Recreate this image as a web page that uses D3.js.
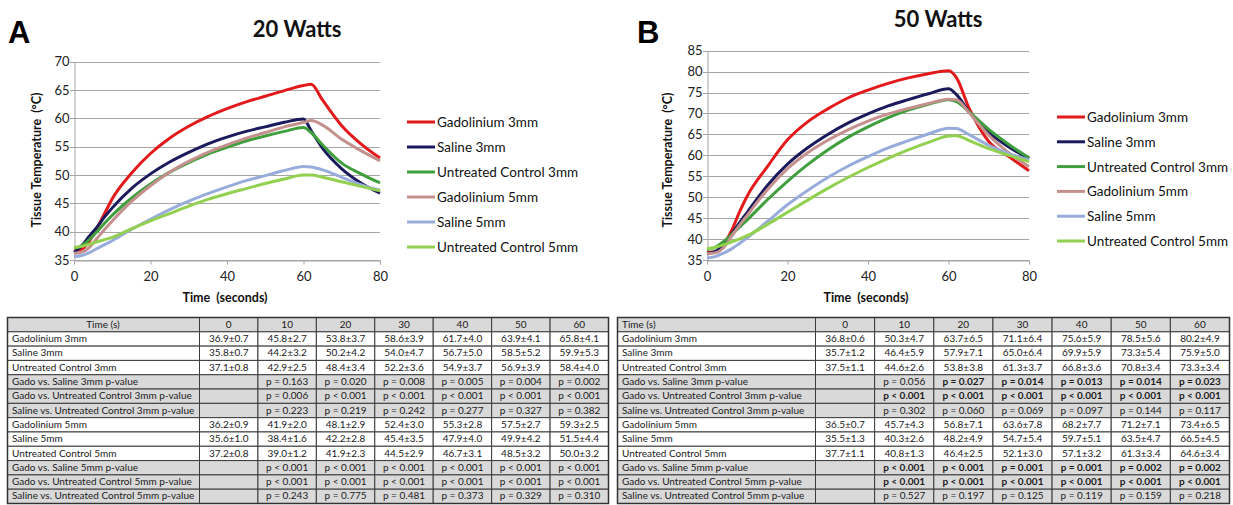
<!DOCTYPE html>
<html>
<head>
<meta charset="utf-8">
<script src="https://cdn.jsdelivr.net/npm/d3@7"></script>
<style>
  body { margin: 0; background: #fff; }
  svg { display: block; font-family: Lato, "Open Sans", sans-serif; }
</style>
</head>
<body>
<script>
// time grid (seconds) the curves were read at
var times = [0, 2, 4, 6, 8, 10, 15, 20, 25, 30, 35, 40, 45, 50, 55, 60, 62, 65, 70, 75, 80];

var seriesNames = ["Gadolinium 3mm", "Saline 3mm", "Untreated Control 3mm",
                   "Gadolinium 5mm", "Saline 5mm", "Untreated Control 5mm"];

// 20 Watts
var a_gado3 = [36.6, 36.9, 38.3, 40.6, 43.2, 45.8, 50.3, 53.8, 56.5, 58.6, 60.3, 61.7, 62.9, 63.9, 64.9, 65.8, 66.0, 63.2, 58.7, 55.5, 53.0];
var a_sal3  = [36.3, 37.5, 39.2, 40.8, 42.6, 44.2, 47.6, 50.2, 52.3, 54.0, 55.5, 56.7, 57.7, 58.5, 59.3, 59.9, 57.8, 54.7, 51.1, 48.6, 46.8];
var a_unt3  = [37.1, 37.5, 38.6, 40.0, 41.5, 42.9, 45.9, 48.4, 50.5, 52.2, 53.7, 54.9, 56.0, 56.9, 57.7, 58.4, 57.5, 55.3, 52.1, 50.2, 48.6];
var a_gado5 = [36.2, 36.4, 37.2, 38.8, 40.4, 41.9, 45.3, 48.1, 50.5, 52.4, 54.0, 55.3, 56.5, 57.5, 58.5, 59.3, 59.6, 58.8, 56.3, 54.3, 52.5];
var a_sal5  = [35.6, 35.8, 36.3, 37.0, 37.7, 38.4, 40.4, 42.2, 43.9, 45.4, 46.7, 47.9, 49.0, 49.9, 50.8, 51.5, 51.4, 50.9, 49.6, 48.3, 47.3];
var a_unt5  = [37.2, 37.4, 37.8, 38.2, 38.6, 39.0, 40.5, 41.9, 43.2, 44.5, 45.7, 46.7, 47.6, 48.5, 49.3, 50.0, 50.0, 49.6, 48.8, 48.0, 47.2];

// 50 Watts
var b_gado3 = [36.8, 37.0, 38.5, 41.8, 46.3, 50.3, 57.3, 63.7, 68.0, 71.1, 73.7, 75.6, 77.2, 78.5, 79.5, 80.2, 78.5, 71.5, 63.3, 59.7, 56.3];
var b_sal3  = [36.5, 37.0, 38.5, 41.0, 43.8, 46.4, 52.8, 57.9, 61.8, 65.0, 67.7, 69.9, 71.8, 73.3, 74.7, 75.9, 74.5, 70.5, 65.5, 62.0, 59.2];
var b_unt3  = [37.5, 38.0, 39.3, 41.0, 42.8, 44.6, 49.4, 53.8, 57.8, 61.3, 64.3, 66.8, 69.0, 70.8, 72.2, 73.3, 72.8, 70.5, 66.2, 62.6, 59.4];
var b_gado5 = [36.5, 36.7, 37.8, 40.5, 43.2, 45.7, 51.8, 56.8, 60.6, 63.6, 66.1, 68.2, 69.9, 71.2, 72.4, 73.4, 73.3, 70.3, 64.8, 60.6, 57.3];
var b_sal5  = [35.5, 35.8, 36.6, 37.6, 38.9, 40.3, 44.2, 48.2, 51.6, 54.7, 57.4, 59.7, 61.8, 63.5, 65.1, 66.5, 66.4, 65.0, 62.4, 60.4, 58.9];
var b_unt5  = [37.7, 38.0, 38.6, 39.3, 40.0, 40.8, 43.5, 46.4, 49.3, 52.1, 54.7, 57.1, 59.3, 61.3, 63.1, 64.6, 64.7, 63.6, 61.6, 60.0, 58.5];

var xTicks = [0, 20, 40, 60, 80];
var yTicksA = [35, 40, 45, 50, 55, 60, 65, 70];
var yTicksB = [35, 40, 45, 50, 55, 60, 65, 70, 75, 80, 85];

// tables
var tableTimes = ["0", "10", "20", "30", "40", "50", "60"];
var rowLabels = ["Gadolinium 3mm", "Saline 3mm", "Untreated Control 3mm",
  "Gado vs. Saline 3mm p-value", "Gado vs. Untreated Control 3mm p-value", "Saline vs. Untreated Control 3mm p-value",
  "Gadolinium 5mm", "Saline 5mm", "Untreated Control 5mm",
  "Gado vs. Saline 5mm p-value", "Gado vs. Untreated Control 5mm p-value", "Saline vs. Untreated Control 5mm p-value"];
var pRows = [false, false, false, true, true, true, false, false, false, true, true, true];

var tA_gado3 = ["36.9±0.7", "45.8±2.7", "53.8±3.7", "58.6±3.9", "61.7±4.0", "63.9±4.1", "65.8±4.1"];
var tA_sal3  = ["35.8±0.7", "44.2±3.2", "50.2±4.2", "54.0±4.7", "56.7±5.0", "58.5±5.2", "59.9±5.3"];
var tA_unt3  = ["37.1±0.8", "42.9±2.5", "48.4±3.4", "52.2±3.6", "54.9±3.7", "56.9±3.9", "58.4±4.0"];
var tA_p1    = ["", "p = 0.163", "p = 0.020", "p = 0.008", "p = 0.005", "p = 0.004", "p = 0.002"];
var tA_p2    = ["", "p = 0.006", "p < 0.001", "p < 0.001", "p < 0.001", "p < 0.001", "p < 0.001"];
var tA_p3    = ["", "p = 0.223", "p = 0.219", "p = 0.242", "p = 0.277", "p = 0.327", "p = 0.382"];
var tA_gado5 = ["36.2±0.9", "41.9±2.0", "48.1±2.9", "52.4±3.0", "55.3±2.8", "57.5±2.7", "59.3±2.5"];
var tA_sal5  = ["35.6±1.0", "38.4±1.6", "42.2±2.8", "45.4±3.5", "47.9±4.0", "49.9±4.2", "51.5±4.4"];
var tA_unt5  = ["37.2±0.8", "39.0±1.2", "41.9±2.3", "44.5±2.9", "46.7±3.1", "48.5±3.2", "50.0±3.2"];
var tA_p4    = ["", "p < 0.001", "p < 0.001", "p < 0.001", "p < 0.001", "p < 0.001", "p < 0.001"];
var tA_p5    = ["", "p < 0.001", "p < 0.001", "p < 0.001", "p < 0.001", "p < 0.001", "p < 0.001"];
var tA_p6    = ["", "p = 0.243", "p = 0.775", "p = 0.481", "p = 0.373", "p = 0.329", "p = 0.310"];

var tB_gado3 = ["36.8±0.6", "50.3±4.7", "63.7±6.5", "71.1±6.4", "75.6±5.9", "78.5±5.6", "80.2±4.9"];
var tB_sal3  = ["35.7±1.2", "46.4±5.9", "57.9±7.1", "65.0±6.4", "69.9±5.9", "73.3±5.4", "75.9±5.0"];
var tB_unt3  = ["37.5±1.1", "44.6±2.6", "53.8±3.8", "61.3±3.7", "66.8±3.6", "70.8±3.4", "73.3±3.4"];
var tB_p1    = ["", "p = 0.056", "p = 0.027", "p = 0.014", "p = 0.013", "p = 0.014", "p = 0.023"];
var tB_p2    = ["", "p < 0.001", "p < 0.001", "p < 0.001", "p < 0.001", "p < 0.001", "p < 0.001"];
var tB_p3    = ["", "p = 0.302", "p = 0.060", "p = 0.069", "p = 0.097", "p = 0.144", "p = 0.117"];
var tB_gado5 = ["36.5±0.7", "45.7±4.3", "56.8±7.1", "63.6±7.8", "68.2±7.7", "71.2±7.1", "73.4±6.5"];
var tB_sal5  = ["35.5±1.3", "40.3±2.6", "48.2±4.9", "54.7±5.4", "59.7±5.1", "63.5±4.7", "66.5±4.5"];
var tB_unt5  = ["37.7±1.1", "40.8±1.3", "46.4±2.5", "52.1±3.0", "57.1±3.2", "61.3±3.4", "64.6±3.4"];
var tB_p4    = ["", "p < 0.001", "p < 0.001", "p = 0.001", "p = 0.001", "p = 0.002", "p = 0.002"];
var tB_p5    = ["", "p < 0.001", "p < 0.001", "p < 0.001", "p < 0.001", "p < 0.001", "p < 0.001"];
var tB_p6    = ["", "p = 0.527", "p = 0.197", "p = 0.125", "p = 0.119", "p = 0.159", "p = 0.218"];

var colors = ["#e3191b", "#1b1a5c", "#3f9f3d", "#c4908e", "#98acdc", "#92d050"];

var svg = d3.select("body").append("svg").attr("width", 1233).attr("height", 505);
svg.append("rect").attr("width", 1233).attr("height", 505).attr("fill", "#fff");

function drawChart(o) {
  var g = svg.append("g");
  var x = d3.scaleLinear().domain([0, 80]).range([o.x0, o.x1]);
  var y = d3.scaleLinear().domain([35, o.yTicks[o.yTicks.length - 1]]).range([260, o.yTop]);

  // gridlines
  g.selectAll(".grid").data(o.yTicks).enter().append("line")
    .attr("x1", o.x0 - 4).attr("x2", o.x1)
    .attr("y1", function(d) { return Math.round(y(d)) + 0.5; })
    .attr("y2", function(d) { return Math.round(y(d)) + 0.5; })
    .attr("stroke", "#a6a6a6").attr("stroke-width", 1);

  var yAxis = g.append("g").attr("transform", "translate(" + (Math.round(o.x0) + 0.5) + ",0)")
    .call(d3.axisLeft(y).tickValues(o.yTicks).tickSize(0).tickPadding(5));
  yAxis.select(".domain").attr("stroke", "#a6a6a6");
  yAxis.selectAll("text").attr("font-size", 13).attr("fill", "#222").attr("font-family", "Lato, sans-serif");

  var xAxis = g.append("g").attr("transform", "translate(0," + 260.5 + ")")
    .call(d3.axisBottom(x).tickValues(o.xTicks).tickSize(4).tickPadding(7));
  xAxis.select(".domain").attr("stroke", "#a6a6a6");
  xAxis.selectAll("line").attr("stroke", "#a6a6a6");
  xAxis.selectAll("text").attr("font-size", 13).attr("fill", "#222").attr("font-family", "Lato, sans-serif");

  var line = d3.line()
    .x(function(d) { return x(d[0]); })
    .y(function(d) { return y(d[1]); })
    .curve(d3.curveMonotoneX);

  o.series.forEach(function(s, i) {
    g.append("path")
      .datum(times.map(function(t, j) { return [t, s[j]]; }))
      .attr("d", line)
      .attr("fill", "none")
      .attr("stroke", colors[i])
      .attr("stroke-width", 3)
      .attr("stroke-linejoin", "round");
  });

  // titles
  g.append("text").attr("x", o.titleX).attr("y", o.titleY).attr("text-anchor", "middle")
    .attr("font-size", 22).attr("font-weight", "bold").attr("fill", "#111").text(o.title);
  g.append("text").attr("x", o.letterX).attr("y", 43)
    .attr("font-family", "Liberation Sans, Arial, sans-serif")
    .attr("font-size", 31).attr("font-weight", "bold").attr("fill", "#000").text(o.letter);
  g.append("text").attr("x", (o.x0 + o.x1) / 2 - 2).attr("y", 302).attr("text-anchor", "middle")
    .attr("font-size", 12.5).attr("font-weight", "bold").attr("fill", "#111")
    .attr("xml:space", "preserve").text("Time  (seconds)");
  g.append("text").attr("transform", "translate(" + o.yLabelX + "," + 160 + ") rotate(-90)")
    .attr("text-anchor", "middle").attr("font-size", 12.5).attr("font-weight", "bold").attr("fill", "#111")
    .attr("xml:space", "preserve").text("Tissue Temperature  (°C)");

  // legend
  var leg = g.selectAll(".leg").data(seriesNames).enter().append("g")
    .attr("transform", function(d, i) { return "translate(" + o.legX + "," + (o.legY + i * o.legStep) + ")"; });
  leg.append("line").attr("x1", 0).attr("x2", 28).attr("y1", 0).attr("y2", 0)
    .attr("stroke", function(d, i) { return colors[i]; }).attr("stroke-width", 3);
  leg.append("text").attr("x", 30).attr("y", 5).attr("font-size", 13.5).attr("fill", "#111")
    .text(function(d) { return d; });
}

drawChart({
  x0: 74, x1: 380, yTop: 61.7, yTicks: yTicksA, xTicks: xTicks,
  series: [a_gado3, a_sal3, a_unt3, a_gado5, a_sal5, a_unt5],
  title: "20 Watts", titleX: 297, titleY: 37, letter: "A", letterX: 8, yLabelX: 41,
  legX: 407, legY: 122, legStep: 25
});
drawChart({
  x0: 707, x1: 1029, yTop: 50.7, yTicks: yTicksB, xTicks: xTicks,
  series: [b_gado3, b_sal3, b_unt3, b_gado5, b_sal5, b_unt5],
  title: "50 Watts", titleX: 938, titleY: 27, letter: "B", letterX: 637, yLabelX: 672,
  legX: 1057, legY: 117, legStep: 24.8
});

function drawTable(o) {
  var g = svg.append("g").attr("font-size", 10).attr("fill", "#1a1a1a");
  var rows = d3.range(rowLabels.length + 1);
  var ry = d3.scaleBand().domain(rows).range([317, 503]);
  var cx = d3.scaleBand().domain(tableTimes).range([o.split, o.right]);

  var data = [["Time (s)"].concat(tableTimes)];
  o.values.forEach(function(v, i) { data.push([rowLabels[i]].concat(v)); });

  data.forEach(function(row, r) {
    var shaded = r === 0 || pRows[r - 1];
    var rg = g.append("g");
    // label cell
    rg.append("rect").attr("x", o.left + 0.5).attr("y", ry(r) + 0.5)
      .attr("width", o.split - o.left).attr("height", ry.bandwidth())
      .attr("fill", shaded ? "#d9d9d9" : "#fff").attr("stroke", "#3c3c3c").attr("stroke-width", 1);
    rg.append("text")
      .attr("x", r === 0 && o.centerHead ? (o.left + o.split) / 2 : o.left + 5)
      .attr("text-anchor", r === 0 && o.centerHead ? "middle" : "start")
      .attr("y", ry(r) + ry.bandwidth() / 2 + 3.6).text(row[0]);
    tableTimes.forEach(function(t, c) {
      rg.append("rect").attr("x", cx(t) + 0.5).attr("y", ry(r) + 0.5)
        .attr("width", cx.bandwidth()).attr("height", ry.bandwidth())
        .attr("fill", shaded ? "#d9d9d9" : "#fff").attr("stroke", "#3c3c3c").attr("stroke-width", 1);
      var s = row[c + 1];
      var bold = o.boldSig && r > 0 && pRows[r - 1] && s !== "" &&
        (s.indexOf("<") >= 0 || parseFloat(s.split("=")[1]) < 0.05);
      rg.append("text").attr("x", cx(t) + cx.bandwidth() / 2 + 0.5).attr("text-anchor", "middle")
        .attr("y", ry(r) + ry.bandwidth() / 2 + 3.6)
        .attr("font-weight", bold ? "bold" : "normal").text(s);
    });
  });
  g.append("rect").attr("x", o.left + 0.5).attr("y", 317.5).attr("width", o.right - o.left).attr("height", 186)
    .attr("fill", "none").attr("stroke", "#333").attr("stroke-width", 1.5);
}

drawTable({
  left: 7, split: 199, right: 608, centerHead: true, boldSig: false,
  values: [tA_gado3, tA_sal3, tA_unt3, tA_p1, tA_p2, tA_p3, tA_gado5, tA_sal5, tA_unt5, tA_p4, tA_p5, tA_p6]
});
drawTable({
  left: 617, split: 815, right: 1229, centerHead: false, boldSig: true,
  values: [tB_gado3, tB_sal3, tB_unt3, tB_p1, tB_p2, tB_p3, tB_gado5, tB_sal5, tB_unt5, tB_p4, tB_p5, tB_p6]
});
</script>
</body>
</html>
